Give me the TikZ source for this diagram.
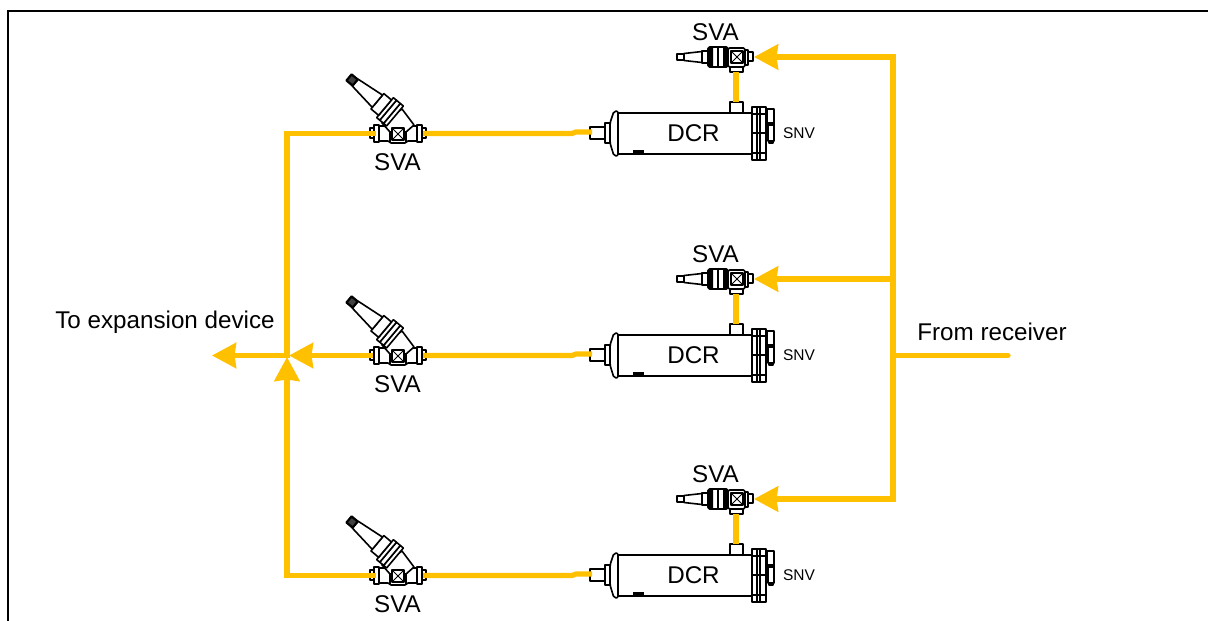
\documentclass[tikz,border=0pt]{standalone}
\usepackage{fontspec}
\setmainfont{Liberation Sans}
\usetikzlibrary{arrows.meta}
\definecolor{pipeyellow}{HTML}{FFC000}
\tikzset{
  x=1pt,y=-1pt,
  pipe/.style={draw=pipeyellow,line width=5.2pt},
  flow/.style={pipe,-{Stealth[length=24pt,width=25pt,inset=1.5pt]}},
  part/.style={draw=black,line width=1.6pt,fill=white,line join=round},
  heavy/.style={draw=black,line width=2.2pt,line join=round},
  thinl/.style={draw=black,line width=1pt},
  lab/.style={font=\fontsize{24.2}{26}\selectfont,inner sep=0pt,text=black},
  smalllab/.style={font=\fontsize{15.5}{17}\selectfont,inner sep=0pt,text=black},
  frameline/.style={draw=black,line width=2pt,line cap=butt,line join=miter},
  pics/crosssq/.style={code={
    \draw[part,line width=1.5pt] (-6,-6) rectangle (6,6);
    \draw[thinl] (-6,-6) -- (6,6) (-6,6) -- (6,-6);
  }},
  pics/anglevalve/.style={code={
    \coordinate (-l) at (-28,0);
    \coordinate (-r) at (28,0);
    % body
    \draw[part] (-28,-5) rectangle (-24,5);
    \draw[part] (24,-5) rectangle (28,5);
    \draw[part] (-24,-8) rectangle (-19,9);
    \draw[part] (19,-8) rectangle (24,9);
    \draw[part] (-19,-7) -- (-10,-7) -- (-7,-10) -- (7,-10) -- (10,-7) -- (19,-7)
      -- (19,8) -- (10,8) -- (7,10) -- (-7,10) -- (-10,8) -- (-19,8) -- cycle;
    \draw[part,fill=none] (-8,-1) -- (-8,10) (8,-1) -- (8,10);
    % wedge joining bonnet and body
    \draw[part] (-16,-10) -- (4,-24) -- (16,-8) -- (8,-1) -- (-8,-1) -- cycle;
    % bonnet, axis running up-left from the body
    \begin{scope}[shift={(-3,-17)},rotate=140]
      \draw[part] (0,-13) rectangle (4,13);
      \draw[part] (4,-13) rectangle (9,13);
      \draw[part] (9,-13) rectangle (13,13);
      \draw[part] (13,-10) rectangle (23,10);
      \draw[part] (23,-8) -- (52,-4.5) -- (52,4.5) -- (23,8) -- cycle;
      \draw[heavy,fill=black!75] (52,-4) rectangle (60,4);
    \end{scope}
    \pic at (0,1) {crosssq};
  }},
  pics/topvalve/.style={code={
    \coordinate (-r) at (17,0);
    \coordinate (-b) at (0,15);
    \draw[part] (-60,-3) rectangle (-53,3);
    \draw[part] (-53,-3.5) -- (-35,-5.5) -- (-35,5.5) -- (-53,3.5) -- cycle;
    \draw[part] (-35,-6) rectangle (-29,6);
    \draw[part,rounded corners=1.5pt] (-29,-10) rectangle (-9,10);
    \fill[black] (-28,-10) rectangle (-24,10) (-14,-10) rectangle (-10,10);
    \draw[part,fill=none] (-19,-10) -- (-19,10);
    \draw[part,rounded corners=1.5pt] (-9,-9) rectangle (8,10);
    \draw[part] (8,-7) rectangle (11,8);
    \draw[part] (11,-5) rectangle (16,4);
    \draw[part] (-7,10) rectangle (6,15);
    \pic at (0,0) {crosssq};
  }},
  pics/dcr/.style={code={
    \coordinate (-l) at (-103,0);
    \coordinate (-t) at (43,-31);
    % local origin: centre of shell height, at x = 693
    \draw[part] (-103,-6) rectangle (-88,6);
    \draw[part] (-88,-10) rectangle (-83,10);
    \draw[part,rounded corners=2pt] (-83,-10) -- (-79,-22) -- (-75,-22) -- (-75,23) -- (-79,23) -- (-83,10) -- cycle;
    \draw[part] (-75,-20) -- (59,-20) -- (59,21) -- (-75,21) -- cycle;
    \draw[heavy] (-75,-20) -- (-75,21);
    \draw[black,fill=black] (-60,17) rectangle (-50,21);
    \draw[part] (37,-31) rectangle (50,-20);
    % flange
    \draw[part] (59,-26) rectangle (64,27);
    \draw[part] (64,-26) rectangle (67,27);
    \draw[part] (67,-26) rectangle (73,27);
    \draw[heavy,fill=none] (59,-19) -- (73,-19) (59,0) -- (73,0) (59,20) -- (73,20);
    % side valve
    \draw[part] (74,-24) rectangle (81,-8);
    \draw[part] (75,-8) rectangle (81,8);
    \draw[part] (76,8) rectangle (80,10);
    \draw[heavy] (74,-10) -- (81,-10);
  }}
}
\begin{document}
\begin{tikzpicture}
\useasboundingbox (0,0) rectangle (1208,621);
\coordinate (fa) at (1208,11);
\coordinate (fb) at (8,11);
\coordinate (fc) at (8,621);
\draw[frameline] (fa) -- (fb) -- (fc);

% equipment
\foreach \i/\dy in {1/0,2/222,3/442}{
  \pic (sv\i) at (398,{133+\dy}) {anglevalve};
  \pic (dc\i) at (693,{133+\dy}) {dcr};
  \pic (tv\i) at (737,{57+\dy}) {topvalve};
  \node[lab] (svl\i) at (397.5,{162+\dy}) {SVA};
  \node[lab] (tvl\i) at (715.5,{32+\dy}) {SVA};
  \node[lab] (dcl\i) at (693.5,{133+\dy}) {DCR};
  \node[smalllab] (snv\i) at (799,{133+\dy}) {SNV};
  \coordinate (trunk\i) at (893,{57+\dy});
  \coordinate (port\i) at (754,{57+\dy});
  \coordinate (jog\i) at (572,{133.5+\dy});
  \coordinate (jogb\i) at (576,{132+\dy});
  \coordinate (dcin\i) at (592,{132+\dy});
  \coordinate (lft\i) at (287,{133.5+\dy});
  \coordinate (svout\i) at (423,{133.5+\dy});
  \coordinate (svin\i) at (373,{133.5+\dy});
  \coordinate (tvb\i) at (736,{72+\dy});
  \coordinate (dct\i) at (736,{102+\dy});
  \draw[pipe] (svout\i) -- (jog\i) -- (jogb\i) -- (dcin\i);
  \draw[pipe] (tvb\i) -- (dct\i);
  \draw[flow] (trunk\i) -- (port\i);
}

% supply trunk
\coordinate (recv) at (1008,355.5);
\coordinate (recvj) at (893,355.5);
\draw[pipe,line cap=rect] (trunk1) -- (trunk3);
\draw[pipe,line cap=round] (recv) -- (recvj);

% outlet collector
\coordinate (junc) at (287,355.5);
\coordinate (junr) at (289,355.5);
\coordinate (junb) at (287,357);
\coordinate (outl) at (212,355.5);
\draw[pipe,line cap=rect] (lft1) -- (junc);
\draw[pipe,line cap=rect] (svin1) -- (lft1);
\draw[flow] (junc) -- (outl);
\draw[flow] (svin2) -- (junr);
\draw[pipe,line cap=rect] (svin3) -- (lft3);
\draw[flow,line cap=rect] (lft3) -- (junb);

\node[lab] (toexp) at (165,322) {To expansion device};
\node[lab] (fromr) at (992,332) {From receiver};
\end{tikzpicture}
\end{document}
